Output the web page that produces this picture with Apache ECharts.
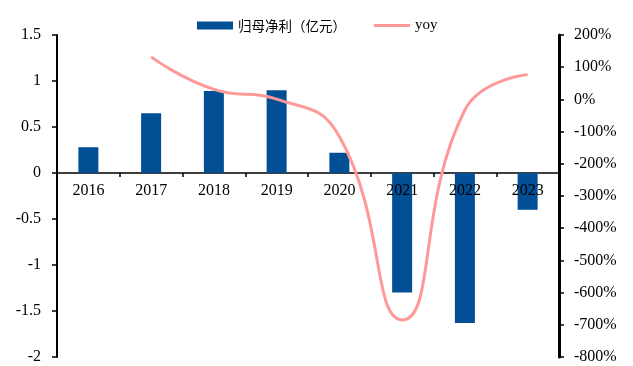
<!DOCTYPE html>
<html>
<head>
<meta charset="utf-8">
<script src="https://cdn.jsdelivr.net/npm/echarts@6/dist/echarts.min.js"></script>
<style>
html,body{margin:0;padding:0;background:#fff;}
#chart{width:633px;height:366px;}
</style>
</head>
<body>
<div id="chart"></div>
<script>
// Annual net profit attributable to parent (100M CNY) and its YoY change
const years = ['2016', '2017', '2018', '2019', '2020', '2021', '2022', '2023'];
const netProfit = [0.28, 0.65, 0.89, 0.90, 0.22, -1.30, -1.63, -0.40];
const yoy = [null, 132, 31, 1, -115, -685, -33, 77];

const serif = '"Liberation Serif", "Times New Roman", serif';
const cjk = '"Noto Sans CJK SC", sans-serif';

// plot area geometry
const gridTop = 35, gridBottom = 9, chartH = 366;
const leftMin = -2, leftMax = 1.5;
// distance from the plot's bottom edge up to the zero line of the left axis
const zeroOffset = (chartH - gridTop - gridBottom) * (0 - leftMin) / (leftMax - leftMin);

const chart = echarts.init(document.getElementById('chart'));
chart.setOption({
  animation: false,
  backgroundColor: '#fff',
  legend: {
    top: 13,
    left: 192,
    itemGap: 28,
    itemWidth: 36,
    itemHeight: 8,
    textStyle: { fontFamily: cjk, fontSize: 13.5, color: '#000' },
    data: [
      { name: '归母净利（亿元）', icon: 'rect' },
      {
        name: 'yoy',
        icon: 'path://M0,0H36V3H0Z',
        textStyle: { fontFamily: serif, fontSize: 15 }
      }
    ]
  },
  grid: { left: 57, right: 74, top: gridTop, bottom: gridBottom, containLabel: false, outerBoundsMode: 'none' },
  xAxis: [
    {
      type: 'category',
      data: years,
      z: 1,
      axisLine: { onZero: true, lineStyle: { color: '#000', width: 1.5 } },
      axisTick: { show: true, length: 4, lineStyle: { color: '#000', width: 1.5 } },
      axisLabel: { show: false }
    },
    {
      // year labels placed just under the zero line, drawn above the bars
      type: 'category',
      data: years,
      position: 'bottom',
      offset: -zeroOffset,
      z: 10,
      axisLine: { show: false },
      axisTick: { show: false },
      axisLabel: { fontFamily: serif, fontSize: 16, color: '#000', margin: 10 }
    }
  ],
  yAxis: [
    {
      type: 'value',
      min: leftMin, max: leftMax, interval: 0.5,
      splitLine: { show: false },
      axisLine: { show: true, onZero: false, lineStyle: { color: '#000', width: 2 } },
      axisTick: { show: true, length: 5, lineStyle: { color: '#000', width: 1.5 } },
      axisLabel: { fontFamily: serif, fontSize: 16, color: '#000', margin: 16 }
    },
    {
      type: 'value',
      min: -800, max: 200, interval: 100,
      splitLine: { show: false },
      axisLine: { show: true, onZero: false, lineStyle: { color: '#000', width: 3 } },
      axisTick: { show: true, length: 5, lineStyle: { color: '#000', width: 1.5 } },
      axisLabel: { fontFamily: serif, fontSize: 16, color: '#000', margin: 15, formatter: '{value}%' }
    }
  ],
  series: [
    {
      name: '归母净利（亿元）',
      type: 'bar',
      data: netProfit,
      barWidth: 20,
      itemStyle: { color: '#024F96' },
      yAxisIndex: 0,
      xAxisIndex: 0
    },
    {
      name: 'yoy',
      type: 'line',
      data: yoy,
      yAxisIndex: 1,
      xAxisIndex: 0,
      smooth: 0.5,
      symbol: 'none',
      connectNulls: false,
      lineStyle: { color: '#FF9999', width: 3 },
      itemStyle: { color: '#FF9999' }
    }
  ]
});
</script>
</body>
</html>
